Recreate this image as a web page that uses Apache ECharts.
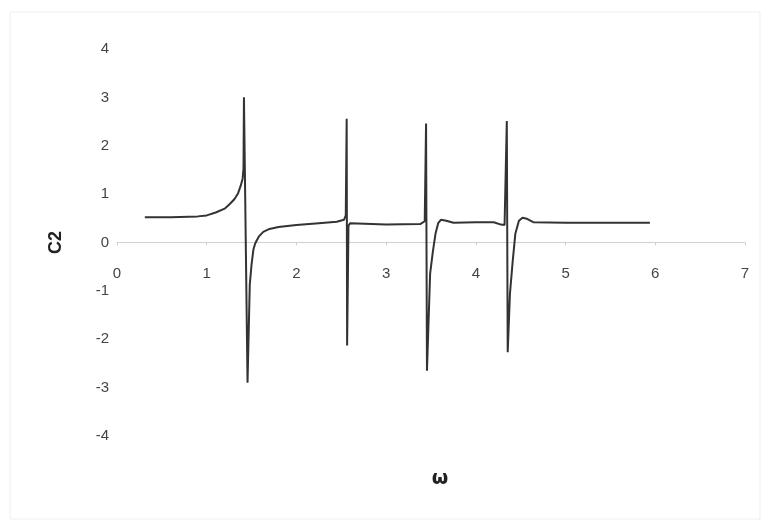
<!DOCTYPE html>
<html>
<head>
<meta charset="utf-8">
<title>C2 vs ω</title>
<script src="https://cdn.jsdelivr.net/npm/echarts@6/dist/echarts.min.js"></script>
<style>
  html, body { margin: 0; padding: 0; background: #ffffff; }
  #chart { width: 770px; height: 522px; }
</style>
</head>
<body>
<div id="chart"></div>
<script>
// Frequency ω and response coefficient C2 (resonances near 1.4, 2.56, 3.45, 4.35)
var omega = [
  0.31, 0.60, 0.90, 1.00, 1.10, 1.20, 1.26, 1.31, 1.35, 1.38, 1.40, 1.41,
  1.415, 1.455, 1.48, 1.50, 1.52, 1.54, 1.58, 1.63, 1.70, 1.80, 2.00, 2.25,
  2.45, 2.53, 2.55, 2.56, 2.565, 2.58, 2.60, 3.00, 3.38, 3.43, 3.445, 3.455,
  3.49, 3.52, 3.55, 3.58, 3.61, 3.67, 3.75, 4.00, 4.20, 4.28, 4.32, 4.345,
  4.355, 4.38, 4.41, 4.44, 4.48, 4.52, 4.57, 4.64, 5.00, 5.50, 5.94
];
var c2 = [
  0.52, 0.52, 0.54, 0.56, 0.62, 0.70, 0.80, 0.90, 1.02, 1.18, 1.32, 1.53,
  3.00, -2.90, -0.87, -0.45, -0.15, -0.02, 0.12, 0.22, 0.28, 0.32, 0.36, 0.40,
  0.43, 0.47, 0.56, 2.56, -2.13, 0.35, 0.40, 0.37, 0.38, 0.44, 2.46, -2.65,
  -0.65, -0.20, 0.18, 0.40, 0.47, 0.45, 0.41, 0.42, 0.42, 0.37, 0.36, 2.51,
  -2.27, -1.06, -0.40, 0.18, 0.45, 0.51, 0.49, 0.42, 0.41, 0.41, 0.41
];
var xTicks = [0, 1, 2, 3, 4, 5, 6, 7];
var yTicks = [-4, -3, -2, -1, 0, 1, 2, 3, 4];

var points = omega.map(function (w, i) { return [w, c2[i]]; });

var GRID_TOP = 49, GRID_BOTTOM = 86, CHART_H = 522;
// distance from grid bottom up to the y = 0 line (y range is symmetric)
var zeroLift = (CHART_H - GRID_TOP - GRID_BOTTOM) / 2;

var chart = echarts.init(document.getElementById('chart'), null, { renderer: 'canvas' });
chart.setOption({
  backgroundColor: '#ffffff',
  animation: false,
  graphic: [{
    type: 'rect',
    shape: { x: 10, y: 12, width: 750, height: 507 },
    style: { fill: 'none', stroke: '#efefef', lineWidth: 1 },
    silent: true
  }],
  grid: { left: 117, right: 25, top: GRID_TOP, bottom: GRID_BOTTOM, containLabel: false, outerBoundsMode: 'none' },
  xAxis: {
    type: 'value',
    min: xTicks[0],
    max: xTicks[xTicks.length - 1],
    interval: 1,
    offset: -zeroLift,
    name: 'ω',
    nameLocation: 'middle',
    nameGap: 227,
    nameTextStyle: {
      fontFamily: 'DejaVu Sans, sans-serif', fontWeight: 'bold', fontSize: 19, color: '#222',
      padding: [0, 0, 0, 18]
    },
    axisLine: { show: true, onZero: false, lineStyle: { color: '#d0d0d0', width: 1 } },
    axisTick: { show: true, inside: false, length: 3, lineStyle: { color: '#d0d0d0' } },
    axisLabel: {
      margin: 24,
      fontFamily: 'Liberation Sans, Arial, sans-serif', fontSize: 15, color: '#444'
    },
    splitLine: { show: false }
  },
  yAxis: {
    type: 'value',
    min: yTicks[0],
    max: yTicks[yTicks.length - 1],
    interval: 1,
    name: 'C2',
    nameLocation: 'middle',
    nameGap: 52,
    nameRotate: 90,
    nameTextStyle: {
      fontFamily: 'Liberation Sans, Arial, sans-serif', fontWeight: 'bold', fontSize: 18, color: '#222'
    },
    axisLine: { show: false },
    axisTick: { show: false },
    axisLabel: {
      margin: 8,
      fontFamily: 'Liberation Sans, Arial, sans-serif', fontSize: 15, color: '#444'
    },
    splitLine: { show: false }
  },
  series: [{
    type: 'line',
    data: points,
    showSymbol: false,
    smooth: false,
    lineStyle: { color: '#333333', width: 2 },
    silent: true
  }]
});
</script>
</body>
</html>
